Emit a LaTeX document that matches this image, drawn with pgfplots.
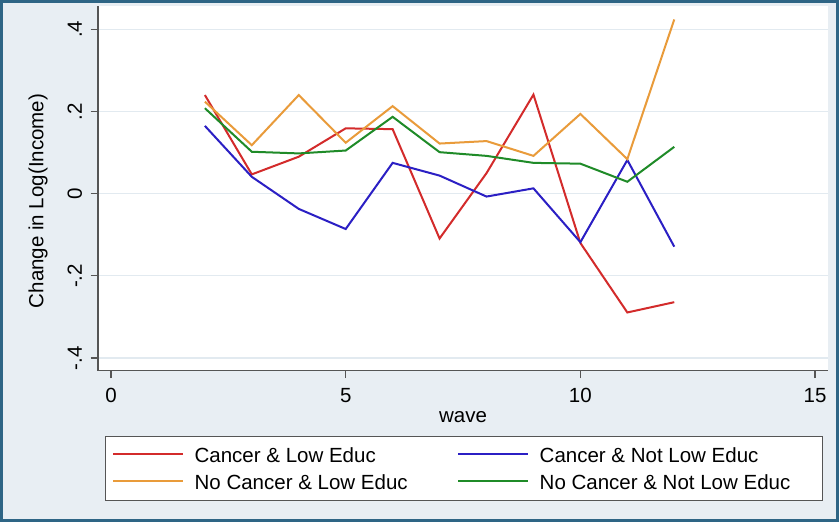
\documentclass[border=0pt]{standalone}
\usepackage{pgfplots}
\pgfplotsset{compat=1.18}
\usepackage{fontspec}
\setmainfont{Liberation Sans}

\definecolor{outerbg}{HTML}{E8EEF3}
\definecolor{framecol}{HTML}{2E6585}
\definecolor{gridcol}{HTML}{E2EAF0}
\definecolor{axiscol}{HTML}{555555}
\definecolor{sred}{HTML}{D32B2B}
\definecolor{sblue}{HTML}{2B1FC4}
\definecolor{sorange}{HTML}{E99B3A}
\definecolor{sgreen}{HTML}{1F8B28}

\newcommand{\fs}{\fontsize{20.5}{24}\selectfont}

\begin{document}
\begin{tikzpicture}[x=1pt,y=1pt]
\useasboundingbox (0,0) rectangle (839,522);
\fill[outerbg] (0,0) rectangle (839,522);
\draw[framecol, line width=3pt] (1.5,1.5) rectangle (837.5,520.5);
% legend frame
\draw[fill=white, draw=axiscol, line width=1pt] (105,21) rectangle (822,85);

\begin{axis}[
    at={(98pt,151.3pt)}, anchor=south west,
    scale only axis,
    width=730pt, height=364.7pt,
    xmin=-0.277, xmax=15.275,
    ymin=-0.4307, ymax=0.4567,
    axis background/.style={fill=white},
    axis x line*=bottom, axis y line*=left,
    axis line style={-, draw=axiscol, line width=1.2pt},
    xtick={0,5,10,15},
    ytick={-0.4,-0.2,0,0.2,0.4},
    yticklabels={-.4,-.2,0,.2,.4},
    /pgf/number format/assume math mode=true,
    tick align=outside,
    major tick length=7.5pt,
    tick style={draw=axiscol, line width=1.2pt},
    ymajorgrids,
    grid style={draw=gridcol, line width=1.2pt},
    ticklabel style={font=\fs, inner sep=0pt},
    xticklabel style={anchor=north},
    xticklabel shift=10pt,
    yticklabel style={rotate=90, anchor=base},
    yticklabel shift=8.5pt,
    xlabel={wave},
    ylabel={Change in Log(Income)},
    every axis x label/.style={at={(axis description cs:0.5,-0.126)}, anchor=center, font=\fs, inner sep=0pt},
    every axis y label/.style={at={(axis description cs:-0.0822,0.4653)}, anchor=center, rotate=90, font=\fs, inner sep=0pt},
    legend columns=2,
    legend style={draw=none, fill=none,
        at={(axis description cs:0.015,-0.2045)}, anchor=north west,
        column sep=10.5pt,
        nodes={inner sep=0pt, text height=15pt, text depth=12.5pt}},
    legend cell align=left,
    legend image code/.code={\draw[#1] (0pt,7.3pt) -- (70pt,7.3pt);},
    every axis plot/.append style={line width=2pt},
]
\addplot[sred] coordinates {
    (2,0.240)(3,0.047)(4,0.090)(5,0.159)(6,0.157)(7,-0.109)(8,0.050)(9,0.241)(10,-0.120)(11,-0.289)(12,-0.264)
};
\addlegendentry{\fs Cancer \& Low Educ}
\addplot[sblue] coordinates {
    (2,0.165)(3,0.041)(4,-0.037)(5,-0.086)(6,0.075)(7,0.044)(8,-0.007)(9,0.013)(10,-0.118)(11,0.082)(12,-0.129)
};
\addlegendentry{\fs Cancer \& Not Low Educ}
\addplot[sorange] coordinates {
    (2,0.224)(3,0.118)(4,0.240)(5,0.124)(6,0.213)(7,0.122)(8,0.128)(9,0.092)(10,0.194)(11,0.084)(12,0.424)
};
\addlegendentry{\fs No Cancer \& Low Educ\rule{39pt}{0pt}}
\addplot[sgreen] coordinates {
    (2,0.208)(3,0.102)(4,0.098)(5,0.105)(6,0.187)(7,0.101)(8,0.092)(9,0.075)(10,0.073)(11,0.029)(12,0.114)
};
\addlegendentry{\fs No Cancer \& Not Low Educ}
\end{axis}
\end{tikzpicture}
\end{document}
